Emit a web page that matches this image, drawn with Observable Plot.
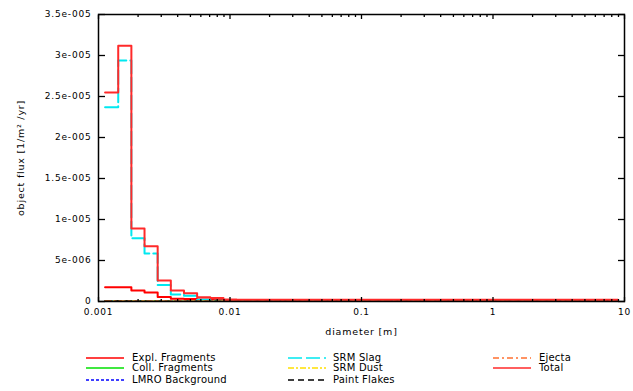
<!DOCTYPE html>
<html><head><meta charset="utf-8">
<script src="https://cdn.jsdelivr.net/npm/d3@7"></script>
<script src="https://cdn.jsdelivr.net/npm/@observablehq/plot@0.6"></script>
<style>
body{margin:0;background:#fff;}
#legend{position:relative;width:633px;height:51px;font:10px "DejaVu Sans",sans-serif;letter-spacing:0.2px;color:#000;}
.sw{position:absolute;width:38px;height:12px;}
.lab{position:absolute;height:12px;line-height:12px;white-space:nowrap;}
</style></head><body><div id="chart"></div><div id="legend"></div>
<script>
// bin centres, log10(diameter [m])
const binLog = [-2.9,-2.8,-2.7,-2.6,-2.5,-2.4,-2.3,-2.2,-2.1,-2.0,-1.9,-1.8,-1.7,-1.6,-1.5,-1.4,-1.3,-1.2,-1.1,-1.0,
  -0.9,-0.8,-0.7,-0.6,-0.5,-0.4,-0.3,-0.2,-0.1,0.0,0.1,0.2,0.3,0.4,0.5,0.6,0.7,0.8,0.9];
const fluxUnit = 1e-5; // values below are in units of 1e-5 objects / m^2 / yr
const explFragments = [0.174,0.174,0.135,0.11,0.055,0.035,0.03,0.025,0.022,0.02,0.019,0.018,0.018,0.018,0.018,0.018,0.018,0.018,0.018,0.018,
  0.018,0.018,0.018,0.018,0.018,0.018,0.018,0.018,0.018,0.018,0.018,0.018,0.018,0.018,0.018,0.018,0.018,0.018,0.018];
const collFragments = [0.002,0.002,0.002,0.002,0.001,0.001,0.001,0.001,0.001,0.001,0,0,0,0,0,0,0,0,0,0,
  0,0,0,0,0,0,0,0,0,0,0,0,0,0,0,0,0,0,0];
const lmroBackground = [0.001,0.001,0.001,0.001,0.001,0,0,0,0,0,0,0,0,0,0,0,0,0,0,0,
  0,0,0,0,0,0,0,0,0,0,0,0,0,0,0,0,0,0,0];
const srmSlag = [2.37,2.94,0.77,0.586,0.20,0.085,0.07,0.02,0.01,0.002,0,0,0,0,0,0,0,0,0,0,
  0,0,0,0,0,0,0,0,0,0,0,0,0,0,0,0,0,0,0];
const srmDust = [0,0,0,0,0,0,0,0,0,0,0,0,0,0,0,0,0,0,0,0,
  0,0,0,0,0,0,0,0,0,0,0,0,0,0,0,0,0,0,0];
const paintFlakes = [0.002,0.002,0.001,0.001,0.001,0,0,0,0,0,0,0,0,0,0,0,0,0,0,0,
  0,0,0,0,0,0,0,0,0,0,0,0,0,0,0,0,0,0,0];
const ejecta = [0.001,0.001,0.001,0,0,0,0,0,0,0,0,0,0,0,0,0,0,0,0,0,
  0,0,0,0,0,0,0,0,0,0,0,0,0,0,0,0,0,0,0];
const total = [2.55,3.12,0.89,0.675,0.255,0.133,0.10,0.052,0.042,0.022,0.021,0.02,0.02,0.02,0.02,0.02,0.02,0.02,0.02,0.02,
  0.02,0.02,0.02,0.02,0.02,0.02,0.02,0.02,0.02,0.02,0.02,0.02,0.02,0.02,0.02,0.02,0.02,0.02,0.02];

const seriesNames = ["Expl. Fragments","Coll. Fragments","LMRO Background","SRM Slag","SRM Dust","Paint Flakes","Ejecta","Total"];
const seriesValues = [explFragments,collFragments,lmroBackground,srmSlag,srmDust,paintFlakes,ejecta,total];
const seriesColors = ["#ff0000","#00e000","#0000ff","#00e8f0","#ffe000","#000000","#ff7030","#ff2a2a"];
const seriesDash = [null,null,"3,2","14,4","6,2,2,2","6,4","6,3,2,3",null];

const xMajor = [0.001,0.01,0.1,1,10];
const xTickLabels = ["0.001","0.01","0.1","1","10"];
const xMinor = [0.002,0.003,0.004,0.005,0.006,0.007,0.008,0.009,0.02,0.03,0.04,0.05,0.06,0.07,0.08,0.09,
  0.2,0.3,0.4,0.5,0.6,0.7,0.8,0.9,2,3,4,5,6,7,8,9];
const yTicks = [0,5e-6,1e-5,1.5e-5,2e-5,2.5e-5,3e-5,3.5e-5];
const yTickLabels = ["0","5e-006","1e-005","1.5e-005","2e-005","2.5e-005","3e-005","3.5e-005"];
const xLabel = "diameter [m]";
const yLabel = "object flux [1/m\u00B2 /yr]";

// histogram-step table
const half = (binLog[1]-binLog[0])/2;
const steps = [];
seriesNames.forEach((name, s) => {
  binLog.forEach((c, i) => {
    const v = seriesValues[s][i]*fluxUnit;
    steps.push({series:name, d:10**(c-half), v});
    steps.push({series:name, d:10**(c+half), v});
  });
});

const lineMarks = seriesNames.map((name, s) => Plot.line(steps.filter(r => r.series === name), {
  x:"d", y:"v", stroke: seriesColors[s], strokeWidth: 2, strokeDasharray: seriesDash[s] ?? undefined, clip: true
}));

const blank = () => "";
const chart = Plot.plot({
  width: 633, height: 340,
  marginLeft: 98, marginRight: 9, marginTop: 14, marginBottom: 39,
  style: {fontFamily: "DejaVu Sans, sans-serif", fontSize: "9px", letterSpacing: "0.8px", background: "#fff", color: "#000"},
  x: {type: "log", domain: [0.001, 10]},
  y: {domain: [0, 3.5e-5]},
  marks: [
    ...lineMarks,
    Plot.frame({stroke: "#000", strokeWidth: 1.5}),
    Plot.axisX({anchor: "bottom", ticks: xMajor, tickSize: -4, tickFormat: blank, label: null, strokeWidth: 1.3}),
    Plot.axisX({anchor: "bottom", ticks: xMinor, tickSize: -2, tickFormat: blank, label: null, strokeWidth: 1.3}),
    Plot.axisX({anchor: "top", ticks: xMajor, tickSize: -4, tickFormat: blank, label: null, strokeWidth: 1.3}),
    Plot.axisX({anchor: "top", ticks: xMinor, tickSize: -2, tickFormat: blank, label: null, strokeWidth: 1.3}),
    Plot.axisX({anchor: "bottom", ticks: xMajor, tickSize: 0, tickPadding: 7, tickFormat: d => xTickLabels[xMajor.indexOf(d)], label: null}),
    Plot.axisY({anchor: "left", ticks: yTicks, tickSize: -7, tickFormat: blank, label: null, strokeWidth: 1.3}),
    Plot.axisY({anchor: "right", ticks: yTicks, tickSize: -7, tickFormat: blank, label: null, strokeWidth: 1.3}),
    Plot.axisY({anchor: "left", ticks: yTicks, tickSize: 0, tickPadding: 7, tickFormat: d => yTickLabels[yTicks.indexOf(d)], label: null}),
    Plot.text([xLabel], {text: d => d, frameAnchor: "bottom", textAnchor: "middle", lineAnchor: "middle", dy: 30, fontSize: 9.5}),
    Plot.text([yLabel], {text: d => d, frameAnchor: "left", textAnchor: "middle", lineAnchor: "middle", dx: -78, rotate: -90, fontSize: 9.5})
  ]
});
document.getElementById("chart").appendChild(chart);

// legend below the SVG
const legend = document.getElementById("legend");
const colSwatch = [86, 288, 493], colText = [132, 333, 539];
const rowCenter = [17.7, 28.3, 40];
seriesNames.forEach((name, s) => {
  const col = Math.floor(s/3), row = s % 3;
  const sw = document.createElementNS("http://www.w3.org/2000/svg","svg");
  sw.setAttribute("class","sw");
  sw.setAttribute("width","38"); sw.setAttribute("height","12");
  sw.style.left = colSwatch[col]+"px"; sw.style.top = (rowCenter[row]-6)+"px";
  const ln = document.createElementNS("http://www.w3.org/2000/svg","line");
  ln.setAttribute("x1",0); ln.setAttribute("x2",38); ln.setAttribute("y1",6); ln.setAttribute("y2",6);
  ln.setAttribute("stroke", seriesColors[s]); ln.setAttribute("stroke-width", 1.6);
  if (seriesDash[s]) ln.setAttribute("stroke-dasharray", seriesDash[s]);
  sw.appendChild(ln);
  legend.appendChild(sw);
  const t = document.createElement("div");
  t.className = "lab"; t.textContent = name;
  t.style.left = colText[col]+"px"; t.style.top = (rowCenter[row]-6)+"px";
  legend.appendChild(t);
});
</script>
</body></html>
